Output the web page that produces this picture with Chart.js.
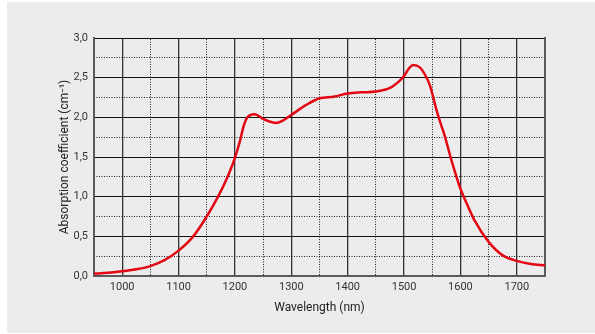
<!DOCTYPE html>
<html>
<head>
<meta charset="utf-8">
<script src="https://cdn.jsdelivr.net/npm/chart.js@4/dist/chart.umd.min.js"></script>
<style>
  html, body { margin: 0; padding: 0; background: #fff; }
  #panel { position: absolute; left: 7px; top: 2px; width: 588px; height: 331px; background: #ececec; }
</style>
</head>
<body>
<div id="panel"><canvas id="myChart" width="588" height="331"></canvas></div>
<script>
// wavelength (nm) and absorption coefficient (cm-1)
const wavelength = [950, 975, 1000, 1025, 1050, 1075, 1100, 1125, 1150, 1170, 1185, 1200, 1210, 1215, 1221, 1228, 1235, 1250, 1260, 1272, 1285, 1300, 1325, 1350, 1375, 1400, 1425, 1450, 1475, 1492, 1500, 1508, 1516, 1528, 1537, 1546, 1550, 1558, 1566, 1572, 1584, 1600, 1612, 1625, 1650, 1675, 1700, 1725, 1750];
const absorption = [0.03, 0.04, 0.06, 0.085, 0.125, 0.2, 0.32, 0.49, 0.75, 1.0, 1.22, 1.49, 1.73, 1.88, 1.99, 2.03, 2.04, 1.98, 1.95, 1.93, 1.96, 2.03, 2.15, 2.24, 2.26, 2.3, 2.315, 2.325, 2.37, 2.46, 2.52, 2.61, 2.66, 2.63, 2.54, 2.4, 2.3, 2.08, 1.9, 1.77, 1.46, 1.1, 0.9, 0.7, 0.43, 0.26, 0.19, 0.15, 0.135];

const xTicks = [1000, 1100, 1200, 1300, 1400, 1500, 1600, 1700];
const xMinorTicks = [1050, 1150, 1250, 1350, 1450, 1550, 1650];
const yTicks = [0, 0.5, 1, 1.5, 2, 2.5, 3];
const yMinorTicks = [0.25, 0.75, 1.25, 1.75, 2.25, 2.75];

const setTicks = (list) => (scale) => {
  scale.ticks = list.map((v) => ({ value: v }));
};

const ctx = document.getElementById("myChart").getContext("2d");
new Chart(ctx, {
  type: "line",
  data: {
    datasets: [
      {
        label: "Absorption",
        data: wavelength.map((w, i) => ({ x: w, y: absorption[i] })),
        borderColor: "#e30613",
        borderWidth: 2.5,
        pointRadius: 0,
        cubicInterpolationMode: "monotone",
        fill: false,
      },
    ],
  },
  options: {
    responsive: false,
    animation: false,
    layout: { padding: { left: 0, top: 36, right: 50, bottom: 0 } },
    plugins: { legend: { display: false }, tooltip: { enabled: false } },
    scales: {
      x: {
        type: "linear",
        position: "bottom",
        min: 950,
        max: 1750,
        afterBuildTicks: setTicks(xTicks),
        afterFit: (s) => { s.height = 57; },
        grid: { color: "#333", lineWidth: 1.3, drawTicks: false },
        border: { color: "#5a5a5a", width: 2 },
        ticks: {
          color: "#333",
          padding: 5,
          font: { family: "Roboto", size: 11 },
          callback: (v) => String(v),
        },
        title: {
          display: true,
          text: "Wavelength (nm)",
          color: "#222",
          font: { family: "Roboto", size: 12 },
          padding: { top: 0, bottom: 18 },
        },
      },
      xMinor: {
        type: "linear",
        position: "top",
        min: 950,
        max: 1750,
        afterBuildTicks: setTicks(xMinorTicks),
        afterFit: (s) => { s.height = 0; },
        ticks: { display: false },
        grid: { color: "#222", lineWidth: 1, drawTicks: false },
        border: { color: "#111", width: 1, dash: [1, 1.5] },
      },
      y: {
        type: "linear",
        position: "left",
        min: 0,
        max: 3,
        afterBuildTicks: setTicks(yTicks),
        afterFit: (s) => { s.width = 87; },
        grid: { color: "#111", lineWidth: 1, drawTicks: false },
        border: { color: "#5a5a5a", width: 2 },
        ticks: {
          color: "#333",
          padding: 6,
          font: { family: "Roboto", size: 11 },
          callback: (v) => v.toFixed(1).replace(".", ","),
        },
        title: {
          display: true,
          text: "Absorption coefficient (cm⁻¹)",
          color: "#222",
          font: { family: "Roboto", size: 12 },
          padding: { top: 51, bottom: 0 },
        },
      },
      yMinor: {
        type: "linear",
        position: "right",
        min: 0,
        max: 3,
        afterBuildTicks: setTicks(yMinorTicks),
        afterFit: (s) => { s.width = 0; },
        ticks: { display: false },
        grid: { color: "#222", lineWidth: 1, drawTicks: false },
        border: { color: "#5a5a5a", width: 2, dash: [1, 1.5] },
      },
    },
  },
});
</script>
</body>
</html>
